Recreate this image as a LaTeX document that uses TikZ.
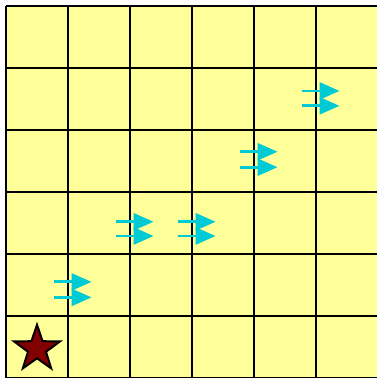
\documentclass[tikz,border=0pt]{standalone}
\usepackage{tikz}
\usepackage{xcolor}
\usetikzlibrary{arrows.meta, shapes.geometric}

\definecolor{cellyellow}{RGB}{255,255,153}
\definecolor{flowcyan}{RGB}{0,202,212}
\definecolor{starred}{RGB}{130,0,0}

\begin{document}
\begin{tikzpicture}[
    flow/.style={flowcyan, line width=1.3pt, -{Triangle[length=3.2mm, width=2.7mm]}},
    goal/.style={star, star points=5, star point ratio=2.55, draw=black, line width=0.9pt,
                 fill=starred, minimum size=0.78cm, inner sep=0pt}]

\useasboundingbox (-0.097,0) rectangle (5.968,6.097);

% Grille
\fill[cellyellow] (0,0) rectangle (6,6);
\draw[line width=0.9pt] (0,0) grid (6,6);

% Fleches
\foreach \bx/\ya/\yb in {1/1.55/1.30, 2/2.52/2.29, 3/2.52/2.29, 4/3.65/3.40, 5/4.63/4.39} {
    \draw[flow] (\bx-0.23,\ya) -- (\bx+0.38,\ya);
    \draw[flow] (\bx-0.23,\yb) -- (\bx+0.38,\yb);
}

% Etoile
\node[goal] (etoile) at (0.5,0.47) {};

\end{tikzpicture}
\end{document}
